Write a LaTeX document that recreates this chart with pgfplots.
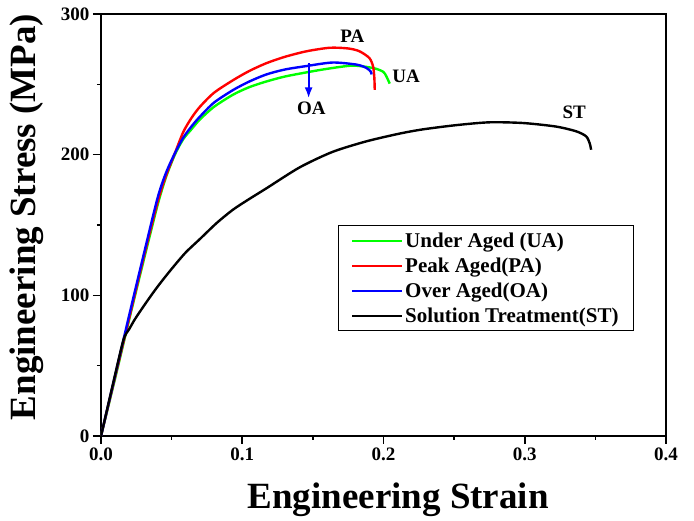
\documentclass[border=0pt]{standalone}
\usepackage{fontspec}
\setmainfont{Liberation Serif}
\usepackage{pgfplots}
\pgfplotsset{compat=1.18}
\usetikzlibrary{arrows.meta}
\begin{document}
\begin{tikzpicture}
\begin{axis}[
  width=565pt, height=422pt, scale only axis,
  xmin=0, xmax=0.4, ymin=0, ymax=300,
  xtick={0,0.1,0.2,0.3,0.4}, ytick={0,100,200,300},
  minor x tick num=1, minor y tick num=1,
  xtick pos=bottom, ytick pos=left,
  tick align=outside,
  major tick length=8pt, minor tick length=4pt,
  every tick/.style={black, line width=1.6pt},
  axis line style={line width=1.8pt},
  x tick label style={/pgf/number format/.cd, fixed, fixed zerofill, precision=1, assume math mode=true},
  y tick label style={/pgf/number format/assume math mode=true},
  ticklabel style={font=\fontsize{19}{22}\selectfont\bfseries},
  xlabel={Engineering Strain},
  ylabel={Engineering Stress (MPa)},
  label style={font=\fontsize{37}{40}\selectfont\bfseries},
  xlabel style={at={(axis description cs:0.526,-0.152)}, anchor=center},
  ylabel style={at={(axis description cs:-0.131,0.519)}, anchor=center},
  legend style={at={(axis description cs:0.419,0.5)}, anchor=north west,
    draw=black, line width=1pt, font=\fontsize{21}{24}\selectfont\bfseries,
    inner xsep=13pt, inner ysep=5pt, row sep=5pt},
  legend cell align={left},
  legend image code/.code={\draw[#1, line width=2pt] (0pt,0pt) -- (50pt,0pt);},
  every axis plot/.append style={line width=2.4pt, line join=round, smooth, tension=0.45},
]
\addplot[color=green] coordinates {
(0,0) (0.010,41) (0.020,83) (0.030,124) (0.040,164) (0.046,184) (0.0523,200)
(0.0582,211) (0.064,218) (0.070,225) (0.080,234) (0.0936,242.7) (0.105,248) (0.117,252)
(0.130,255.5) (0.1455,258.5) (0.160,261) (0.178,263.3) (0.1926,261.6)
(0.1997,259) (0.202,255.7) (0.2044,250.5)};
\addlegendentry{Under Aged (UA)}
\addplot[color=red] coordinates {
(0,0) (0.010,42) (0.020,84) (0.030,126) (0.040,166) (0.046,185) (0.0523,201)
(0.0582,216) (0.064,226) (0.070,234) (0.080,244) (0.0936,253) (0.105,259.5)
(0.117,265) (0.130,269.5) (0.1455,273.5) (0.162,276) (0.175,275.5)
(0.183,273.5) (0.190,268.7) (0.1926,262.8) (0.1935,255) (0.1938,246)};
\addlegendentry{Peak Aged(PA)}
\addplot[color=blue] coordinates {
(0,0) (0.010,43) (0.020,86) (0.030,128) (0.040,169) (0.046,187) (0.0523,201)
(0.0582,212) (0.064,220) (0.070,227) (0.080,237) (0.0936,246) (0.105,252) (0.117,257)
(0.130,260.5) (0.1455,263) (0.164,265.5) (0.181,264) (0.188,261.6)
(0.191,259) (0.1915,257)};
\addlegendentry{Over Aged(OA)}
\addplot[color=black] coordinates {
(0,0) (0.008,35) (0.0158,68) (0.020,76) (0.024,83) (0.030,92) (0.037,102)
(0.043,110) (0.051,120) (0.060,130.5) (0.070,140) (0.082,151.5) (0.0936,161)
(0.105,168.5) (0.117,176) (0.1407,191) (0.164,202) (0.188,209.5) (0.2115,215) (0.228,218)
(0.2516,221) (0.275,223) (0.2987,222.5) (0.322,220) (0.3364,216.6)
(0.3435,213) (0.346,208) (0.347,203.5)};
\addlegendentry{Solution Treatment(ST)}
\draw[blue, line width=2pt, -{Latex[length=11pt,width=8pt]}] (axis cs:0.147,265) -- (axis cs:0.147,240);
\node[font=\fontsize{19}{22}\selectfont\bfseries] at (axis cs:0.149,233) {OA};
\node[font=\fontsize{19}{22}\selectfont\bfseries] at (axis cs:0.178,284) {PA};
\node[font=\fontsize{19}{22}\selectfont\bfseries] at (axis cs:0.216,256) {UA};
\node[font=\fontsize{19}{22}\selectfont\bfseries] at (axis cs:0.335,230) {ST};
\end{axis}
\pgfresetboundingbox
\path (current axis.south west) ++(-101pt,-85pt) rectangle ++(694pt,521pt);
\end{tikzpicture}
\end{document}
